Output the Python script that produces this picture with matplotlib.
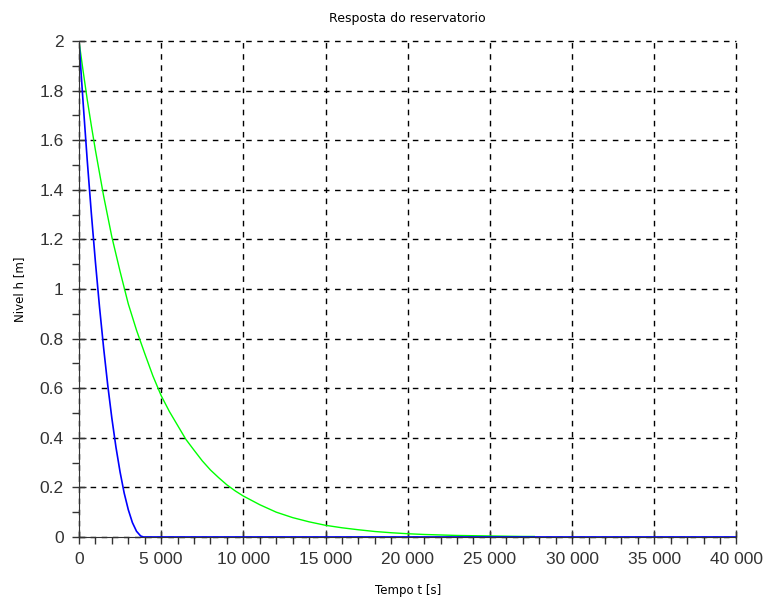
import numpy as np
import matplotlib
matplotlib.use('Agg')
import matplotlib.pyplot as plt
from matplotlib.ticker import MultipleLocator, FuncFormatter

# green: slow drain
t_green = [0, 250, 500, 750, 1000, 1500, 2000, 2500, 3000, 3500, 4000, 4500,
           5000, 5500, 6000, 6500, 7000, 7500, 8000, 8500, 9000, 9500, 10000,
           11000, 12000, 13000, 14000, 15000, 16000, 17000, 18000, 19000,
           20000, 21000, 22000, 23000, 24000, 25000, 26000, 27000, 27700]
h_green = [2.0, 1.88, 1.765, 1.66, 1.56, 1.375, 1.21, 1.071, 0.94, 0.834,
           0.74, 0.649, 0.57, 0.506, 0.45, 0.394, 0.35, 0.307, 0.27, 0.239,
           0.21, 0.186, 0.165, 0.13, 0.10, 0.078, 0.061, 0.047, 0.037, 0.029,
           0.022, 0.017, 0.013, 0.010, 0.008, 0.006, 0.005, 0.004, 0.003,
           0.002, 0.002]

# blue: fast drain
t_blue = [0, 250, 500, 750, 1000, 1250, 1500, 1750, 2000, 2250, 2500,
          2750, 3000, 3250, 3500, 3750, 3920, 40000]
h_blue = [2.0, 1.753, 1.521, 1.307, 1.109, 0.927, 0.762, 0.612, 0.479,
          0.362, 0.262, 0.177, 0.110, 0.058, 0.023, 0.004, 0.0, 0.0]

fig = plt.figure(figsize=(7.69, 6.04), dpi=100)
ax = fig.add_axes([0.1027, 0.111, 0.855, 0.821])

ax.plot(t_green, h_green, color='#00ff00', lw=1)
ax.plot(t_blue, h_blue, color='#0000ff', lw=1.2)

ax.set_xlim(0, 40000)
ax.set_ylim(0, 2)
ax.xaxis.set_major_locator(MultipleLocator(5000))
ax.xaxis.set_minor_locator(MultipleLocator(1000))
ax.yaxis.set_major_locator(MultipleLocator(0.2))
ax.yaxis.set_minor_locator(MultipleLocator(0.1))
ax.xaxis.set_major_formatter(FuncFormatter(lambda v, p: '{:,}'.format(int(v)).replace(',', ' ')))
ax.yaxis.set_major_formatter(FuncFormatter(lambda v, p: '{:g}'.format(round(v, 1))))

ax.grid(True, which='major', color='black', linestyle=(0, (4, 4)), lw=1)
for gl in ax.get_xgridlines() + ax.get_ygridlines():
    gl.set_clip_on(False)
ax.spines['top'].set_visible(False)
ax.spines['right'].set_visible(False)
ax.spines['left'].set_color('#333333')
ax.spines['bottom'].set_color('#333333')
ax.tick_params(which='major', direction='inout', length=10, width=1, color='#333333',
               labelsize=12.5, labelcolor='#333333', pad=6)
ax.tick_params(which='minor', direction='out', length=5, width=1, color='#333333')
for lbl in ax.get_xticklabels() + ax.get_yticklabels():
    lbl.set_fontfamily('Liberation Sans')

ax.set_title('Resposta do reservatorio', fontsize=9, pad=14)
ax.set_xlabel('Tempo t [s]', fontsize=8.5, labelpad=12)
ax.set_ylabel('Nivel h [m]', fontsize=8.5, labelpad=10)

fig.savefig('out.png', dpi=100)
